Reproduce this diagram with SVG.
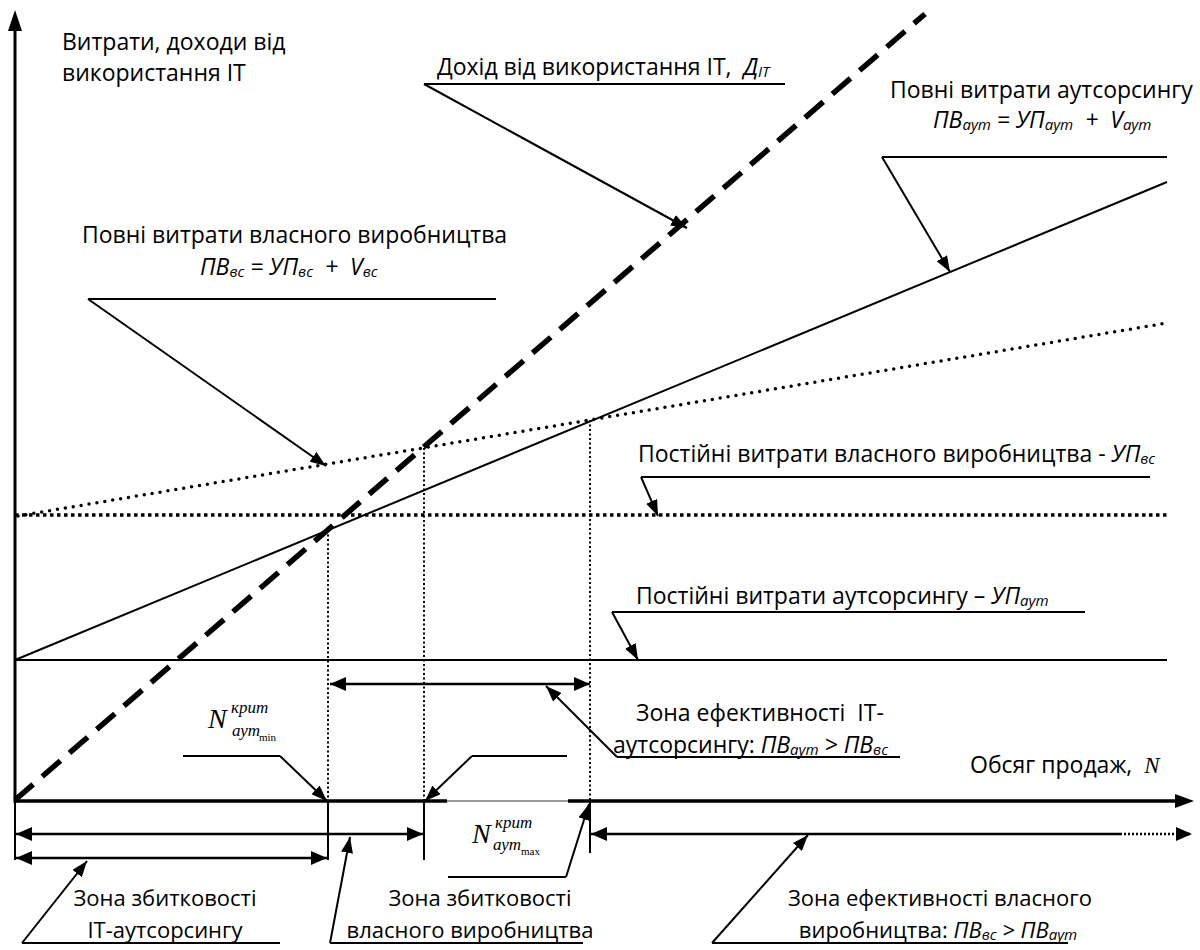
<svg xmlns="http://www.w3.org/2000/svg" width="1200" height="950" viewBox="0 0 1200 950">
<style>
.t{font-family:"Open Sans","Noto Sans","DejaVu Sans",sans-serif;font-size:23px;fill:#000}
.b{font-size:22px}
.it{font-style:italic}
.sub{font-size:15px}
.nf{font-family:"Liberation Serif","Times New Roman",serif;font-style:italic;fill:#000}
.ln{stroke:#000;stroke-width:2;fill:none}
.ldr{stroke:#000;stroke-width:2;fill:none;marker-end:url(#ah)}
.dbl{stroke:#000;stroke-width:2.5;fill:none;marker-start:url(#dh);marker-end:url(#dh)}
.vdot{stroke:#000;stroke-width:2;stroke-dasharray:2 2.5;fill:none}
</style>
<defs>
<marker id="ah" markerUnits="userSpaceOnUse" markerWidth="16" markerHeight="12" refX="16" refY="6" orient="auto"><path d="M0,0 L16,6 L0,12 z" fill="#000"/></marker>
<marker id="dh" markerUnits="userSpaceOnUse" markerWidth="16" markerHeight="14" refX="16" refY="7" orient="auto-start-reverse"><path d="M0,0 L16,7 L0,14 z" fill="#000"/></marker>
</defs>
<rect width="1200" height="950" fill="#fff"/>

<g id="axes">
<line x1="15" y1="803" x2="15" y2="28" stroke="#000" stroke-width="3"/>
<polygon points="15,10 8,31 22,31" fill="#000"/>
<line x1="14" y1="801" x2="447" y2="801" stroke="#000" stroke-width="3.5"/>
<line x1="447" y1="801" x2="568" y2="801" stroke="#777" stroke-width="1.5"/>
<line x1="568" y1="801" x2="1178" y2="801" stroke="#000" stroke-width="3.5"/>
<polygon points="1194,801 1175,794 1175,808" fill="#000"/>
<text class="t" x="62" y="50">Витрати, доходи від</text>
<text class="t" x="62" y="81">використання IT</text>
<text class="t" x="970" y="773">Обсяг продаж,&#160;&#160;<tspan class="nf" font-size="23">N</tspan></text>
</g>

<g id="lines">
<line id="income" x1="15" y1="800" x2="925" y2="14" stroke="#000" stroke-width="5.5" stroke-dasharray="24 12"/>
<line id="pv-aut" x1="15" y1="660" x2="1167" y2="182" class="ln"/>
<line id="pv-vs" x1="18" y1="516" x2="1167" y2="323" stroke="#000" stroke-width="3.5" stroke-linecap="round" stroke-dasharray="0 8"/>
<line id="up-vs" x1="15" y1="515" x2="1167" y2="515" stroke="#000" stroke-width="3.5" stroke-dasharray="3.5 3.5"/>
<line id="up-aut" x1="15" y1="660" x2="1167" y2="660" class="ln"/>
<line x1="328" y1="530" x2="328" y2="800" class="vdot"/>
<line x1="424" y1="448" x2="424" y2="800" class="vdot"/>
<line x1="590" y1="420" x2="590" y2="800" class="vdot"/>
</g>

<g id="ticks">
<line x1="15" y1="801" x2="15" y2="860" class="ln"/>
<line x1="328" y1="801" x2="328" y2="860" class="ln"/>
<line x1="424" y1="801" x2="424" y2="860" class="ln"/>
<line x1="590" y1="801" x2="590" y2="853" class="ln"/>
</g>

<g id="label-income">
<text class="t" x="437" y="75">Дохід від використання IT,&#160;&#160;<tspan class="it">Д</tspan><tspan class="it sub" dy="2">IT</tspan></text>
<line x1="424" y1="84" x2="785" y2="84" class="ln"/>
</g>
<g id="label-pv-aut">
<text class="t" x="890" y="98">Повні витрати аутсорсингу</text>
<text class="t it" x="933" y="128">ПВ<tspan class="sub" dy="2">аут</tspan><tspan dy="-2"> = УП</tspan><tspan class="sub" dy="2">аут</tspan><tspan dy="-2">&#160;&#160;+&#160;&#160;V</tspan><tspan class="sub" dy="2">аут</tspan></text>
<line x1="882" y1="157" x2="1167" y2="157" class="ln"/>
</g>
<g id="label-pv-vs">
<text class="t" x="82" y="243">Повні витрати власного виробництва</text>
<text class="t it" x="200" y="275">ПВ<tspan class="sub" dy="2">вс</tspan><tspan dy="-2"> = УП</tspan><tspan class="sub" dy="2">вс</tspan><tspan dy="-2">&#160;&#160;+&#160;&#160;V</tspan><tspan class="sub" dy="2">вс</tspan></text>
<line x1="88" y1="299" x2="496" y2="299" class="ln"/>
</g>
<g id="label-up-vs">
<text class="t" x="638" y="462">Постійні витрати власного виробництва - <tspan class="it">УП</tspan><tspan class="it sub" dy="2">вс</tspan></text>
<line x1="641" y1="477" x2="1150" y2="477" class="ln"/>
</g>
<g id="label-up-aut">
<text class="t" x="636" y="604">Постійні витрати аутсорсингу – <tspan class="it">УП</tspan><tspan class="it sub" dy="2">аут</tspan></text>
<line x1="612" y1="612" x2="1085" y2="612" class="ln"/>
</g>
<g id="label-zone-it-eff">
<text class="t" x="636" y="721">Зона ефективності&#160;&#160;IT-</text>
<text class="t" x="613" y="753">аутсорсингу: <tspan class="it">ПВ</tspan><tspan class="it sub" dy="2">аут</tspan><tspan class="it" dy="-2"> &gt; ПВ</tspan><tspan class="it sub" dy="2">вс</tspan></text>
<line x1="617" y1="757" x2="900" y2="757" class="ln"/>
</g>
<g id="label-nmin">
<text class="nf" x="208" y="728" font-size="28">N</text>
<text class="nf" x="231" y="713" font-size="17">крит</text>
<text class="nf" x="232" y="736" font-size="17">аут</text>
<text x="259" y="741" font-family="Liberation Serif,serif" font-size="11">min</text>
<line x1="183" y1="756" x2="280" y2="756" class="ln"/>
</g>
<g id="label-nmax">
<text class="nf" x="472" y="843" font-size="28">N</text>
<text class="nf" x="495" y="828" font-size="17">крит</text>
<text class="nf" x="493" y="850" font-size="17">аут</text>
<text x="521" y="855" font-family="Liberation Serif,serif" font-size="11">max</text>
<line x1="448" y1="877" x2="566" y2="877" class="ln"/>
</g>
<g id="label-nmid">
<line x1="472" y1="756" x2="567" y2="756" class="ln"/>
</g>
<g id="label-zone-loss-it">
<text class="t b" x="165" y="906" text-anchor="middle">Зона збитковості</text>
<text class="t b" x="165" y="938" text-anchor="middle">IT-аутсорсингу</text>
<line x1="22" y1="943" x2="280" y2="943" class="ln"/>
</g>
<g id="label-zone-loss-vs">
<text class="t b" x="480" y="906" text-anchor="middle">Зона збитковості</text>
<text class="t b" x="470" y="938" text-anchor="middle">власного виробництва</text>
<line x1="330" y1="943" x2="583" y2="943" class="ln"/>
</g>
<g id="label-zone-eff-vs">
<text class="t b" x="940" y="906" text-anchor="middle">Зона ефективності власного</text>
<text class="t b" x="938" y="938" text-anchor="middle">виробництва: <tspan class="it">ПВ</tspan><tspan class="it sub" dy="2">вс</tspan><tspan class="it" dy="-2"> &gt; ПВ</tspan><tspan class="it sub" dy="2">аут</tspan></text>
<line x1="712" y1="943" x2="1068" y2="943" class="ln"/>
</g>

<g id="connectors">
<line x1="424" y1="84" x2="687" y2="228" class="ldr"/>
<line x1="882" y1="157" x2="950" y2="272" class="ldr"/>
<line x1="88" y1="299" x2="326" y2="466" class="ldr"/>
<line x1="641" y1="477" x2="658" y2="516" class="ldr"/>
<line x1="612" y1="612" x2="638" y2="660" class="ldr"/>
<line x1="617" y1="757" x2="546" y2="686" class="ldr"/>
<line x1="280" y1="756" x2="327" y2="801" class="ldr"/>
<line x1="472" y1="756" x2="425" y2="801" class="ldr"/>
<line x1="566" y1="877" x2="589" y2="804" class="ldr"/>
<line x1="22" y1="943" x2="87" y2="861" class="ldr"/>
<line x1="330" y1="943" x2="350" y2="837" class="ldr"/>
<line x1="712" y1="943" x2="808" y2="835" class="ldr"/>
<line x1="330" y1="684" x2="590" y2="684" class="dbl"/>
<line x1="16" y1="834" x2="423" y2="834" class="dbl"/>
<line x1="16" y1="858" x2="327" y2="858" class="dbl"/>
<g>
<line x1="591" y1="834" x2="1120" y2="834" stroke="#000" stroke-width="2.5" marker-start="url(#dh)"/>
<line x1="1120" y1="834" x2="1192" y2="834" stroke="#000" stroke-width="2.5" stroke-dasharray="2 2" marker-end="url(#dh)"/>
</g>
</g>
</svg>
